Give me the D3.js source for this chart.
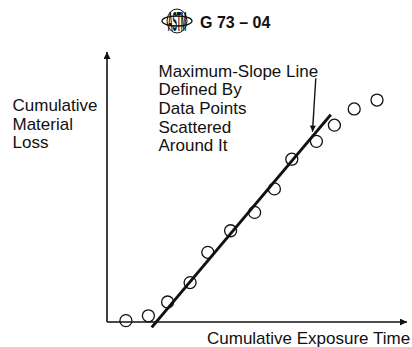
<!DOCTYPE html>
<html>
<head>
<meta charset="utf-8">
<script src="https://cdn.jsdelivr.net/npm/d3@7"></script>
<style>
  body { margin: 0; background: #fff; }
  svg { display: block; }
  text { font-family: 'Liberation Sans', Arial, sans-serif; fill: #111; }
</style>
</head>
<body>
<svg id="chart" width="412" height="347"></svg>
<script>
// cumulative exposure time / cumulative material loss (arbitrary units, 0..100)
const exposure = [6.3, 13.8, 20.2, 27.7, 33.6, 41.2, 49.2, 55.8, 61.6, 69.8, 75.8, 82.4, 90.0];
const loss     = [0.5, 2.3, 7.4, 14.6, 25.8, 33.8, 40.6, 49.3, 60.3, 66.9, 72.9, 78.9, 82.2];
// maximum-slope line endpoints
const slopeX = [14.9, 74.6];
const slopeY = [-2.0, 76.8];
// annotation arrow (start, tip)
const noteX = [69.6, 68.5];
const noteY = [90.3, 70.5];
const noteLines = ['Maximum-Slope Line', 'Defined By', 'Data Points', 'Scattered', 'Around It'];
const yLabelLines = ['Cumulative', 'Material', 'Loss'];
const xLabel = 'Cumulative Exposure Time';
const header = 'G 73 \u2013 04';

const svg = d3.select('#chart');
const x = d3.scaleLinear().domain([0, 100]).range([107, 407]);
const y = d3.scaleLinear().domain([0, 100]).range([322, 52]);

const defs = svg.append('defs');
defs.append('marker')
    .attr('id', 'axisArrow')
    .attr('viewBox', '0 -5 10 10')
    .attr('refX', 10).attr('refY', 0)
    .attr('markerUnits', 'userSpaceOnUse')
    .attr('markerWidth', 11).attr('markerHeight', 7)
    .attr('orient', 'auto')
    .append('path').attr('d', 'M0,-5L10,0L0,5Z').attr('fill', '#111');
defs.append('marker')
    .attr('id', 'noteArrow')
    .attr('viewBox', '0 -5 10 10')
    .attr('refX', 10).attr('refY', 0)
    .attr('markerUnits', 'userSpaceOnUse')
    .attr('markerWidth', 10).attr('markerHeight', 6)
    .attr('orient', 'auto')
    .append('path').attr('d', 'M0,-5L10,0L0,5Z').attr('fill', '#111');

// header with logo (rough ASTM globe)
const logo = svg.append('g').attr('transform', 'translate(177,21)');
logo.append('ellipse').attr('rx', 10).attr('ry', 12)
    .attr('fill', 'none').attr('stroke', '#111').attr('stroke-width', 1);
logo.append('ellipse').attr('rx', 15).attr('ry', 5)
    .attr('fill', 'none').attr('stroke', '#111').attr('stroke-width', 1.3);
logo.append('text')
    .attr('text-anchor', 'middle')
    .attr('transform', 'scale(0.62,2.5)')
    .attr('y', 3.9)
    .style('font-size', '11px').style('font-weight', 'bold')
    .style('letter-spacing', '-0.3px')
    .text('ASTM');
svg.append('text')
    .attr('x', 200).attr('y', 27.5)
    .style('font-size', '16px').style('font-weight', 'bold')
    .text(header);

// axes
svg.append('line')
    .attr('x1', x(0)).attr('y1', y(0)).attr('x2', x(0)).attr('y2', y(100))
    .attr('stroke', '#111').attr('stroke-width', 1.6)
    .attr('marker-end', 'url(#axisArrow)');
svg.append('line')
    .attr('x1', x(0)).attr('y1', y(0)).attr('x2', x(100)).attr('y2', y(0))
    .attr('stroke', '#111').attr('stroke-width', 1.6)
    .attr('marker-end', 'url(#axisArrow)');

// axis labels
svg.append('text')
    .selectAll('tspan')
    .data(yLabelLines)
    .enter().append('tspan')
    .attr('x', 12.5)
    .attr('y', (d, i) => 111 + i * 18.7)
    .style('font-size', '17px')
    .text(d => d);
svg.append('text')
    .attr('x', 207).attr('y', 343.5)
    .style('font-size', '17px')
    .text(xLabel);

// max slope line
svg.append('line')
    .attr('x1', x(slopeX[0])).attr('y1', y(slopeY[0]))
    .attr('x2', x(slopeX[1])).attr('y2', y(slopeY[1]))
    .attr('stroke', '#111').attr('stroke-width', 3);

// data points
svg.append('g')
    .selectAll('circle')
    .data(exposure.map((d, i) => [d, loss[i]]))
    .enter().append('circle')
    .attr('cx', d => x(d[0]))
    .attr('cy', d => y(d[1]))
    .attr('r', 6)
    .attr('fill', 'none')
    .attr('stroke', '#111')
    .attr('stroke-width', 1.3);

// annotation
svg.append('text')
    .selectAll('tspan')
    .data(noteLines)
    .enter().append('tspan')
    .attr('x', 158.5)
    .attr('y', (d, i) => 76.5 + i * 18.7)
    .style('font-size', '17px')
    .text(d => d);
svg.append('line')
    .attr('x1', x(noteX[0])).attr('y1', y(noteY[0]))
    .attr('x2', x(noteX[1])).attr('y2', y(noteY[1]))
    .attr('stroke', '#111').attr('stroke-width', 1.4)
    .attr('marker-end', 'url(#noteArrow)');
</script>
</body>
</html>
